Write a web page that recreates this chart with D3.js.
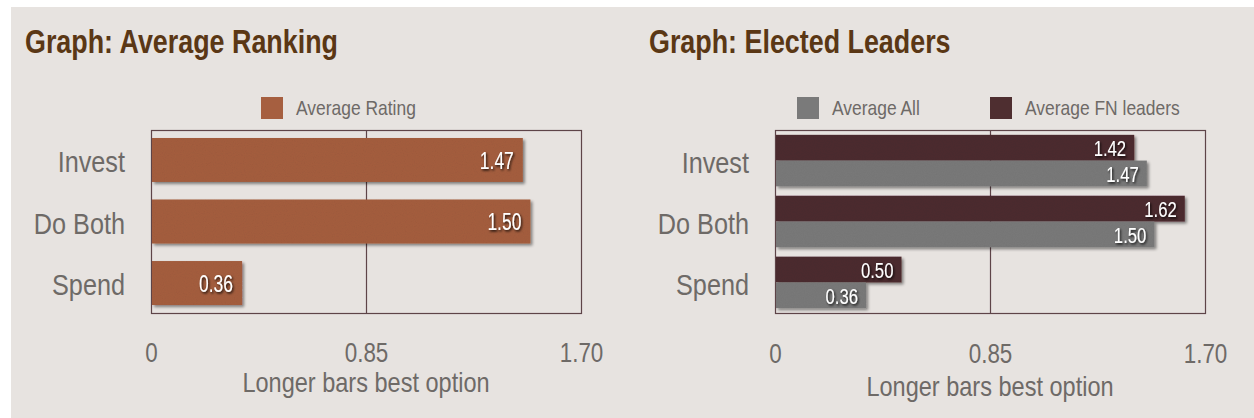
<!DOCTYPE html>
<html>
<head>
<meta charset="utf-8">
<script src="https://cdn.jsdelivr.net/npm/d3@7"></script>
<style>
  body { margin: 0; background: #fff; }
  svg { display: block; }
  text { font-family: "Liberation Sans", Arial, sans-serif; }
</style>
</head>
<body>
<svg id="chart" width="1254" height="418"></svg>
<script>
'use strict'

// data
const categories = ["Invest", "Do Both", "Spend"]
const avgRating = [1.47, 1.50, 0.36]
const avgFN = [1.42, 1.62, 0.50]
const avgAll = [1.47, 1.50, 0.36]
const tickValues = [0, 0.85, 1.70]
const tickLabels = ["0", "0.85", "1.70"]
const axisTitle = "Longer bars best option"

const svg = d3.select("#chart")

// filters: bar shadow + paper grain, text shadow
const defs = svg.append("defs")
const barF = defs.append("filter").attr("id", "barShadow")
  .attr("x", "-5%").attr("y", "-20%").attr("width", "115%").attr("height", "150%")
barF.append("feTurbulence").attr("type", "fractalNoise").attr("baseFrequency", 0.9)
  .attr("numOctaves", 2).attr("seed", 3).attr("result", "noise")
barF.append("feColorMatrix").attr("in", "noise").attr("type", "matrix")
  .attr("values", "0 0 0 0 0  0 0 0 0 0  0 0 0 0 0  0 0 0 0.10 0").attr("result", "grain")
barF.append("feComposite").attr("in", "grain").attr("in2", "SourceGraphic").attr("operator", "in").attr("result", "grainIn")
barF.append("feGaussianBlur").attr("in", "SourceAlpha").attr("stdDeviation", 1.6).attr("result", "blur")
barF.append("feOffset").attr("in", "blur").attr("dx", 2).attr("dy", 2).attr("result", "off")
barF.append("feComponentTransfer").attr("in", "off").attr("result", "shadow")
  .append("feFuncA").attr("type", "linear").attr("slope", 0.45)
const bm = barF.append("feMerge")
bm.append("feMergeNode").attr("in", "shadow")
bm.append("feMergeNode").attr("in", "SourceGraphic")
bm.append("feMergeNode").attr("in", "grainIn")

const txtF = defs.append("filter").attr("id", "txtShadow")
  .attr("x", "-20%").attr("y", "-30%").attr("width", "150%").attr("height", "170%")
txtF.append("feDropShadow").attr("dx", 1.2).attr("dy", 1.5).attr("stdDeviation", 1)
  .attr("flood-color", "#000").attr("flood-opacity", 0.85)

// background panel
svg.append("rect").attr("x", 11).attr("y", 7).attr("width", 1243).attr("height", 411).attr("fill", "#e7e3e0")

const FRAME = "#5e4448"
const LABEL = "#6e6a67"

function drawPanel(p) {
  const g = svg.append("g")
  const x = d3.scaleLinear().domain([0, 1.70]).range([p.x0, p.x0 + 430])
  const y = d3.scaleBand().domain(categories).range([130, 313])
    .paddingInner(p.padIn).paddingOuter(p.padOut)
  const ys = d3.scaleBand().domain(p.series.map(s => s.name)).range([0, y.bandwidth()])

  // title
  g.append("text").attr("class", "cond").attr("data-k", 0.79)
    .attr("x", p.titleX).attr("y", 53)
    .attr("font-size", 34).attr("font-weight", "bold").attr("fill", "#5a3715")
    .text(p.title)

  // legend
  p.legend.forEach(l => {
    const s = p.series.find(d => d.name == l.name)
    g.append("rect").attr("x", l.x).attr("y", 97).attr("width", 22).attr("height", 22)
      .attr("fill", s.color)
    g.append("text").attr("class", "cond").attr("data-k", 0.83)
      .attr("x", l.x + 35).attr("y", 115).attr("font-size", 21).attr("fill", LABEL)
      .text(l.name)
  })

  // frame + middle gridline
  g.append("rect").attr("x", x(0) + 0.5).attr("y", 130.5)
    .attr("width", x(1.70) - x(0)).attr("height", 183)
    .attr("fill", "none").attr("stroke", FRAME).attr("stroke-width", 1.2)
  g.append("line").attr("x1", Math.round(x(0.85)) + 0.5).attr("x2", Math.round(x(0.85)) + 0.5)
    .attr("y1", 130).attr("y2", 313).attr("stroke", FRAME).attr("stroke-width", 1.2)

  // category labels
  g.selectAll(".cat").data(categories).join("text")
    .attr("class", "cond").attr("data-k", 0.87)
    .attr("x", x(0) - 26).attr("y", d => y(d) + y.bandwidth() / 2).attr("dy", "0.42em")
    .attr("text-anchor", "end").attr("font-size", 29).attr("fill", LABEL)
    .text(d => d)

  // bars
  p.series.forEach(s => {
    const rows = categories.map((c, i) => ({ c: c, v: s.values[i] }))
    const sg = g.append("g")
    sg.selectAll("rect").data(rows).join("rect")
      .attr("x", x(0) + 1)
      .attr("y", d => y(d.c) + ys(s.name))
      .attr("width", d => x(d.v) - x(0) - 1)
      .attr("height", ys.bandwidth())
      .attr("fill", s.color)
      .attr("filter", "url(#barShadow)")
    sg.selectAll("text").data(rows).join("text")
      .attr("class", "cond").attr("data-k", 0.76)
      .attr("x", d => x(d.v) - p.valPad)
      .attr("y", d => y(d.c) + ys(s.name) + ys.bandwidth() / 2).attr("dy", "0.38em")
      .attr("text-anchor", "end").attr("font-size", p.valSize).attr("fill", "#fff")
      .attr("filter", "url(#txtShadow)")
      .text(d => d.v.toFixed(2))
  })

  // x axis
  const ax = g.append("g").attr("transform", `translate(0, ${p.tickY})`)
    .call(d3.axisBottom(x).tickValues(tickValues).tickSize(0).tickPadding(0)
      .tickFormat((d, i) => tickLabels[i]))
  ax.select(".domain").remove()
  ax.selectAll("text").attr("class", "cond").attr("data-k", 0.8)
    .attr("font-size", 28).attr("fill", LABEL).attr("dy", 0)
    .attr("font-family", null)
  g.append("text").attr("class", "cond").attr("data-k", 0.84)
    .attr("x", x(0.85)).attr("y", p.titleY).attr("text-anchor", "middle")
    .attr("font-size", 28).attr("fill", LABEL)
    .text(axisTitle)
}

drawPanel({
  x0: 151, titleX: 25, title: "Graph: Average Ranking",
  padIn: 0.285, padOut: 0.13, valPad: 9, valSize: 23,
  tickY: 362, titleY: 392,
  series: [{ name: "Average Rating", values: avgRating, color: "#a65f40" }],
  legend: [{ name: "Average Rating", x: 261 }]
})

drawPanel({
  x0: 775, titleX: 649, title: "Graph: Elected Leaders",
  padIn: 0.155, padOut: 0.08, valPad: 8, valSize: 22,
  tickY: 363, titleY: 396,
  series: [
    { name: "Average FN leaders", values: avgFN, color: "#4e2e30" },
    { name: "Average All", values: avgAll, color: "#7a7a7a" }
  ],
  legend: [{ name: "Average All", x: 797 }, { name: "Average FN leaders", x: 990 }]
})

// squeeze text horizontally to mimic the condensed face
svg.selectAll("text.cond").each(function () {
  const k = +this.getAttribute("data-k") || 0.82
  const w = this.getComputedTextLength()
  d3.select(this).attr("textLength", w * k).attr("lengthAdjust", "spacingAndGlyphs")
})
</script>
</body>
</html>
